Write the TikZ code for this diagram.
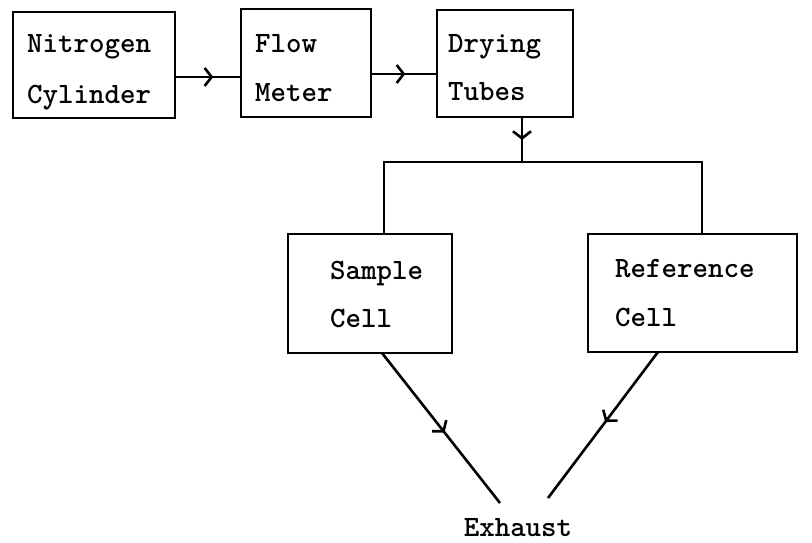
\documentclass[tikz,border=0pt]{standalone}
\usepackage{fontspec}
\usetikzlibrary{arrows.meta,decorations.markings,calc}
\begin{document}
\begin{tikzpicture}[x=1pt,y=1pt,
  box/.style={draw, line width=2.6pt, inner sep=0pt, outer sep=0pt},
  txt/.style={font=\ttfamily\bfseries\fontsize{29.5}{29.5}\selectfont, inner sep=0pt, anchor=base west},
  pipe/.style={line width=2.6pt},
  flow/.style={pipe, postaction={decorate}, decoration={markings, mark=at position #1 with {\arrow[line width=2.6pt]{Straight Barb[length=7pt,width=18pt]}}}},
  flow/.default=0.5]
\useasboundingbox (0,0) rectangle (812,-543);
% boxes
\node[box, minimum width=162pt, minimum height=106pt] (b1) at (94,-65) {};
\node[box, minimum width=130pt, minimum height=108pt] (b2) at (306,-63) {};
\node[box, minimum width=136pt, minimum height=107pt] (b3) at (505,-63.5) {};
\node[box, minimum width=164pt, minimum height=119pt] (b4) at (370,-293.5) {};
\node[box, minimum width=209pt, minimum height=118pt] (b5) at (692.5,-293) {};
% texts
\node[txt] (t1a) at (27,-53) {Nitrogen};
\node[txt] (t1b) at (27,-103) {Cylinder};
\node[txt] (t2a) at (255,-53) {Flow};
\node[txt] (t2b) at (255,-102) {Meter};
\node[txt] (t3a) at (448,-53) {Drying};
\node[txt] (t3b) at (448,-100) {Tubes};
\node[txt] (t4a) at (330,-279) {Sample};
\node[txt] (t4b) at (330,-327) {Cell};
\node[txt] (t5a) at (615,-277) {Reference};
\node[txt] (t5b) at (615,-326) {Cell};
\node[txt, anchor=base] (ex) at (518,-536) {Exhaust};
% connectors
\coordinate (split) at (522,-162);
\coordinate (sl) at (384,-162);
\coordinate (sr) at (702,-162);
\coordinate (ex1) at (500,-503);
\coordinate (ex2) at (548,-498);
\draw[flow=0.58] ([yshift=-12pt]b1.east) -- ([yshift=-14pt]b2.west);
\draw[flow=0.52] ([yshift=-11pt]b2.east) -- ([yshift=-10.5pt]b3.west);
\draw[flow=0.51] ([xshift=17pt]b3.south) -- (split);
\draw[pipe] (sl |- b4.north) -- (sl) -- (sr) -- (sr |- b5.north);
\draw[flow=0.53] ([xshift=12pt]b4.south) -- (ex1);
\draw[flow=0.48] ([xshift=-34.5pt]b5.south) -- (ex2);
\end{tikzpicture}
\end{document}
